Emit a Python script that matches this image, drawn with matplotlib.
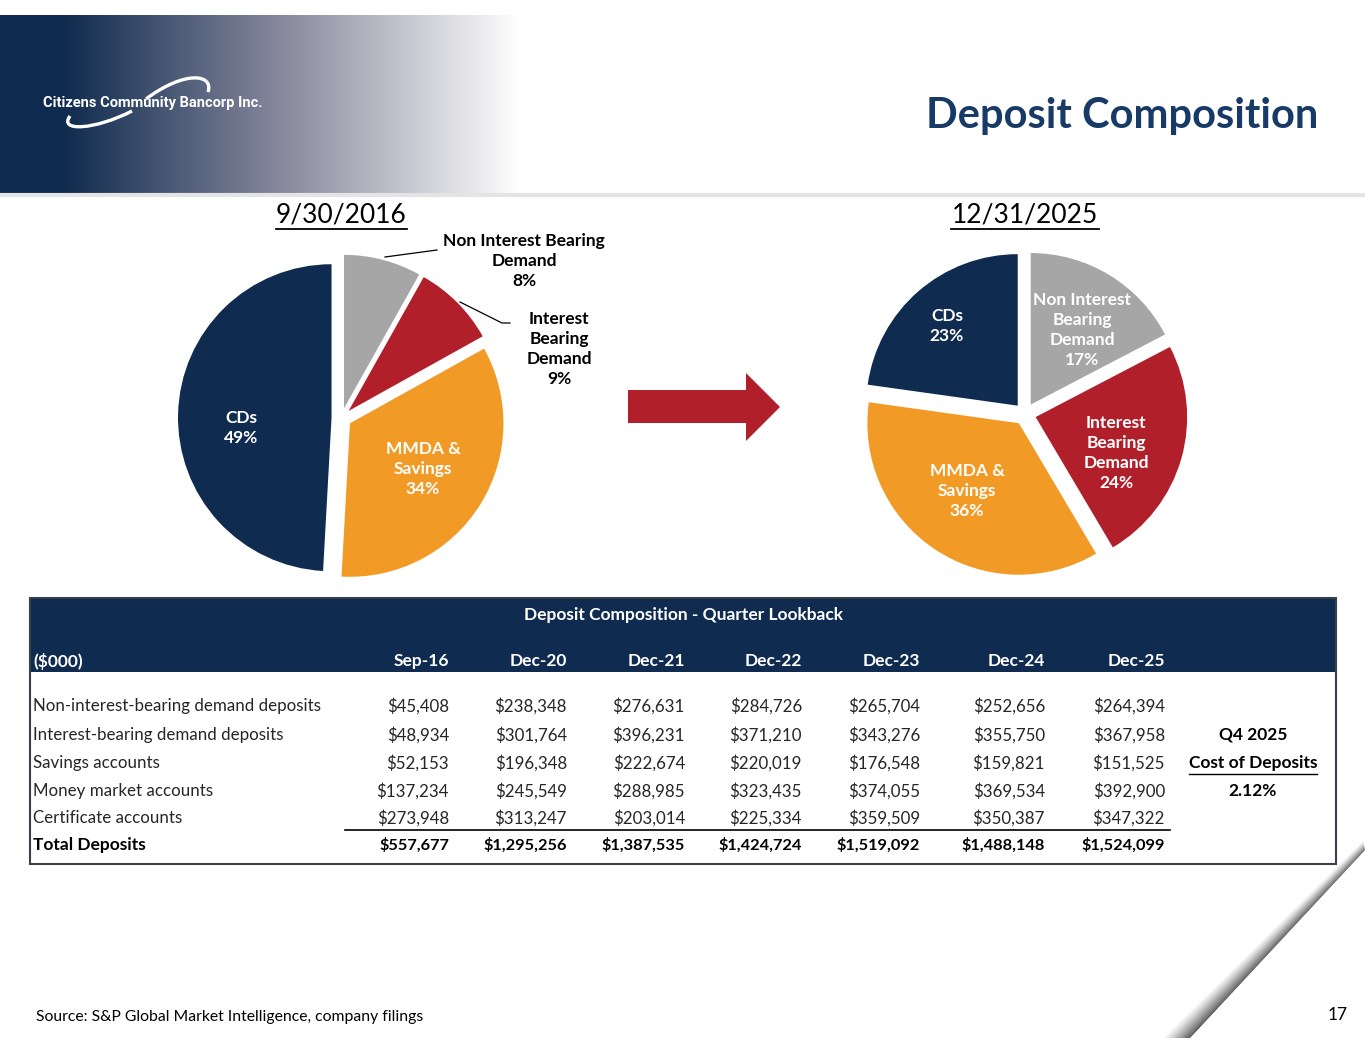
import numpy as np
import matplotlib
matplotlib.use('Agg')
import matplotlib.pyplot as plt
from matplotlib.patches import Rectangle, Polygon, PathPatch
from matplotlib.path import Path

plt.rcParams['font.family'] = ['Lato', 'DejaVu Sans']

W, H = 1365, 1055
NAVY = '#0f2b4f'
TITLE_NAVY = '#173a67'
GRAY = '#a6a6a6'
RED = '#b01f2a'
ORANGE = '#f29a26'

# ---- data ----
quarters = ['Sep-16', 'Dec-20', 'Dec-21', 'Dec-22', 'Dec-23', 'Dec-24', 'Dec-25']
row_names = ['Non-interest-bearing demand deposits', 'Interest-bearing demand deposits',
             'Savings accounts', 'Money market accounts', 'Certificate accounts']
non_interest = [45408, 238348, 276631, 284726, 265704, 252656, 264394]
interest = [48934, 301764, 396231, 371210, 343276, 355750, 367958]
savings = [52153, 196348, 222674, 220019, 176548, 159821, 151525]
money_market = [137234, 245549, 288985, 323435, 374055, 369534, 392900]
certificates = [273948, 313247, 203014, 225334, 359509, 350387, 347322]
totals = [557677, 1295256, 1387535, 1424724, 1519092, 1488148, 1524099]
cost_of_deposits = '2.12%'

pie_names = ['Non Interest Bearing Demand', 'Interest Bearing Demand', 'MMDA & Savings', 'CDs']
pie_colors = [GRAY, RED, ORANGE, NAVY]


def pie_values(i):
    return [non_interest[i], interest[i], savings[i] + money_market[i], certificates[i]]


def pct(vals):
    t = sum(vals)
    return ['%d%%' % round(100 * v / t) for v in vals]


fig = plt.figure(figsize=(W / 100, H / 100), dpi=100)

# background axes in pixel coordinates
bg = fig.add_axes([0, 0, 1, 1], zorder=0)
bg.set_xlim(0, W)
bg.set_ylim(H, 0)
bg.axis('off')

# header gradient
xs = np.arange(W)
t = np.clip((xs - 60) / 460.0, 0, 1)
navy_rgb = np.array([14, 42, 78]) / 255.0
mid_rgb = np.array([140, 140, 160]) / 255.0
grad = np.zeros((1, W, 3))
for i, tt in enumerate(t):
    if tt < 0.5:
        c = navy_rgb + (mid_rgb - navy_rgb) * (tt / 0.5)
    else:
        c = mid_rgb + (1 - mid_rgb) * ((tt - 0.5) / 0.5)
    grad[0, i] = c
bg.imshow(grad, extent=[0, W, 193, 15], aspect='auto', zorder=0)
bg.plot([0, W], [195, 195], color='#e4e4e4', lw=3, zorder=1)

# logo
bg.text(43, 103, 'Citizens Community Bancorp Inc.', color='white', fontsize=10.5,
        fontweight='bold', va='center', ha='left', zorder=3,
        family=['Roboto', 'DejaVu Sans'])
arc1 = Path([(146, 99), (185, 70), (214, 74), (208, 92)],
            [Path.MOVETO, Path.CURVE4, Path.CURVE4, Path.CURVE4])
arc2 = Path([(132, 111), (95, 130), (58, 132), (70, 116)],
            [Path.MOVETO, Path.CURVE4, Path.CURVE4, Path.CURVE4])
for p in (arc1, arc2):
    bg.add_patch(PathPatch(p, fill=False, edgecolor='white', lw=2.4, zorder=3))

# slide title
bg.text(1318, 116, 'Deposit Composition', color=TITLE_NAVY, fontsize=30,
        fontweight='bold', ha='right', va='center')

# date titles
for cx, label in [(341, '9/30/2016'), (1025, '12/31/2025')]:
    bg.text(cx, 215, label, fontsize=19, ha='center', va='center', color='black')
bg.plot([276, 407], [229, 229], color='black', lw=1.3)
bg.plot([951, 1099], [229, 229], color='black', lw=1.3)

# arrow
bg.add_patch(Polygon([(628, 390), (746, 390), (746, 373), (780, 407), (746, 441),
                      (746, 423), (628, 423)], closed=True, facecolor=RED, edgecolor='none'))


# pies
def pie_axes(cx, cy, R, half=1.3):
    size = 2 * half * R
    ax = fig.add_axes([(cx - size / 2) / W, (H - cy - size / 2) / H, size / W, size / H], zorder=2)
    ax.axis('off')
    return ax


ax1 = pie_axes(341.5, 418, 153.5)
ax1.pie(pie_values(0), colors=pie_colors, startangle=90, counterclock=False,
        explode=[0.065] * 4, wedgeprops=dict(linewidth=0))
ax1.set_xlim(-1.3, 1.3)
ax1.set_ylim(-1.3, 1.3)

ax2 = pie_axes(1025, 414, 151.5)
ax2.pie(pie_values(6), colors=pie_colors, startangle=90, counterclock=False,
        explode=[0.073] * 4, wedgeprops=dict(linewidth=0))
ax2.set_xlim(-1.3, 1.3)
ax2.set_ylim(-1.3, 1.3)

# overlay for labels
ov = fig.add_axes([0, 0, 1, 1], zorder=5)
ov.set_xlim(0, W)
ov.set_ylim(H, 0)
ov.axis('off')
ov.patch.set_alpha(0)

p16 = pct(pie_values(0))
p25 = pct(pie_values(6))
lab = dict(fontsize=12.5, fontweight='bold', ha='center', va='center', linespacing=1.33)
ov.text(524, 261, 'Non Interest Bearing\nDemand\n' + p16[0], color='black', **lab)
ov.text(559, 349, 'Interest\nBearing\nDemand\n' + p16[1], color='black', **lab)
ov.text(423, 469, 'MMDA &\nSavings\n' + p16[2], color='white', **lab)
ov.text(241, 428, 'CDs\n' + p16[3], color='white', **lab)
ov.plot([385, 437], [257, 250], color='black', lw=0.9)
ov.plot([460, 502, 510], [302, 323, 323], color='black', lw=0.9)

ov.text(1082, 330, 'Non Interest\nBearing\nDemand\n' + p25[0], color='white', **lab)
ov.text(1116, 453, 'Interest\nBearing\nDemand\n' + p25[1], color='white', **lab)
ov.text(967, 491, 'MMDA &\nSavings\n' + p25[2], color='white', **lab)
ov.text(947, 326, 'CDs\n' + p25[3], color='white', **lab)

# table
tx0, tx1, ty0, ty1 = 30, 1336, 598, 864
ov.add_patch(Rectangle((tx0, ty0), tx1 - tx0, 74, facecolor=NAVY, edgecolor='none'))
ov.add_patch(Rectangle((tx0, ty0), tx1 - tx0, ty1 - ty0, facecolor='none',
                       edgecolor='#3a3f4a', lw=1.5))
tf = dict(fontsize=12.2, va='center')
tb = dict(fontsize=12.5, va='center', fontweight='bold')
ov.text(683, 615, 'Deposit Composition - Quarter Lookback', color='white', ha='center', **tb)
ov.text(33, 661, '($000)', color='white', ha='left', **tb)
col_x = [449, 567, 685, 802, 920, 1045, 1165]
for x, q in zip(col_x, quarters):
    ov.text(x, 661, q, color='white', ha='right', **tb)

rows = [non_interest, interest, savings, money_market, certificates]
row_y = [706, 735, 763, 791, 818]
for y, name, vals in zip(row_y, row_names, rows):
    ov.text(33, y, name, color='#262626', ha='left', **tf)
    for x, v in zip(col_x, vals):
        ov.text(x, y, '${:,}'.format(v), color='#262626', ha='right', **tf)
ov.plot([345, 1170], [830, 830], color='black', lw=1.2)
ov.text(33, 845, 'Total Deposits', color='black', ha='left', **tb)
for x, v in zip(col_x, totals):
    ov.text(x, 845, '${:,}'.format(v), color='black', ha='right', va='center',
            fontsize=11.8, fontweight='bold')

ov.text(1253, 735, 'Q4 2025', color='black', ha='center', **tb)
ov.text(1253, 763, 'Cost of Deposits', color='black', ha='center', **tb)
ov.plot([1189, 1317], [774, 774], color='black', lw=1.0)
ov.text(1253, 791, cost_of_deposits, color='black', ha='center', **tb)

# footer
ov.text(36, 1017, 'Source: S&P Global Market Intelligence, company filings', fontsize=11.3,
        color='black', ha='left', va='center')
ov.text(1338, 1015, '17', fontsize=12.5, color='black', ha='center', va='center')


# page curl in bottom-right corner: soft shadow toward upper-left, crisp lower-right edge
def curl_edge(f, s):
    sx = 1163 + 200 * s
    sy = 1038 - 197 * s
    cx = 1190 + 175 * s
    cy = 1038 - 188 * s
    return (sx + (cx - sx) * f, sy + (cy - sy) * f)


N = 30
for k in range(N):
    f0, f1 = k / N, (k + 1) / N
    pts = [curl_edge(f0, 0), curl_edge(f0, 1), curl_edge(f1, 1), curl_edge(f1, 0)]
    g = 1.0 - 0.8 * (f1 ** 1.2)
    ov.add_patch(Polygon(pts, closed=True, facecolor=(g, g, g), edgecolor='none'))

fig.savefig('out.png', dpi=100)
